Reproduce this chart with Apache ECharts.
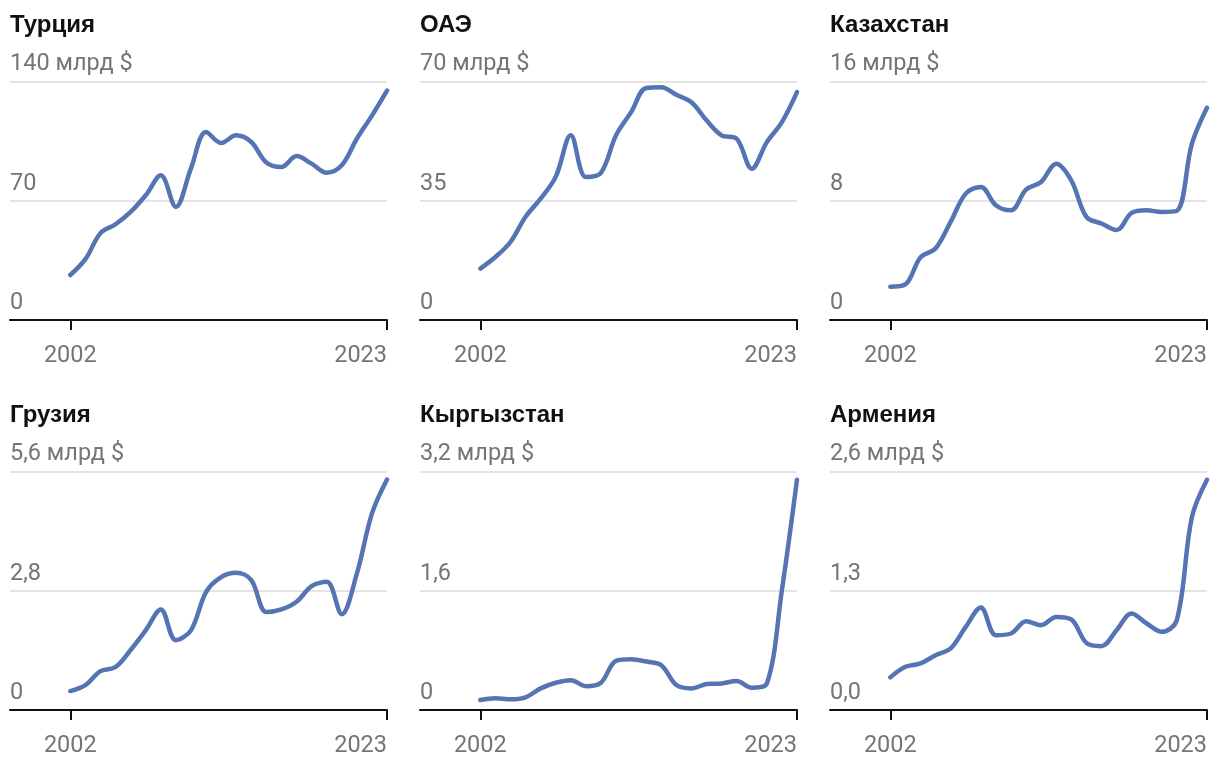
<!DOCTYPE html>
<html>
<head>
<meta charset="utf-8">
<script src="https://cdn.jsdelivr.net/npm/echarts@6/dist/echarts.min.js"></script>
<style>
html,body{margin:0;padding:0;background:#fff;}
#chart{width:1220px;height:770px;}
</style>
</head>
<body>
<div id="chart"></div>
<script>
const years = [2002,2003,2004,2005,2006,2007,2008,2009,2010,2011,2012,2013,2014,2015,2016,2017,2018,2019,2020,2021,2022,2023];
const countries = ['Турция','ОАЭ','Казахстан','Грузия','Кыргызстан','Армения'];
const yMax = [140, 70, 16, 5.6, 3.2, 2.6];
const yDecimals = [0, 0, 0, 1, 1, 1];
const zeroLabels = ['0', '0', '0', '0', '0', '0,0'];
const turkey = [26.4,35.7,51,56.2,63.4,73.2,84.9,66.4,89,110.3,103.9,108.4,104.5,92.4,89.8,96.2,91.8,86.5,90.8,106.4,120,134.7];
const uae = [15.1,18.5,22.9,30.3,35.6,42,54.2,42,43.2,54.2,61,68.1,68.3,66.1,63.9,58.6,54.2,53.2,44.4,52.2,58.1,66.9];
const kazakhstan = [2.23,2.39,4.2,4.8,6.58,8.48,8.93,7.7,7.36,8.75,9.26,10.49,9.37,6.92,6.47,6.03,7.18,7.36,7.25,7.32,11.83,14.24];
const georgia = [0.445,0.586,0.914,1.01,1.41,1.87,2.36,1.64,1.87,2.77,3.12,3.22,3.05,2.30,2.36,2.54,2.91,3.01,2.25,3.20,4.61,5.41];
const kyrgyzstan = [0.134,0.157,0.143,0.17,0.29,0.366,0.40,0.32,0.366,0.66,0.68,0.65,0.60,0.335,0.29,0.348,0.357,0.39,0.30,0.357,1.61,3.09];
const armenia = [0.356,0.471,0.508,0.598,0.671,0.906,1.117,0.816,0.834,0.968,0.925,1.015,0.987,0.732,0.696,0.870,1.052,0.943,0.852,0.979,2.103,2.51];
const seriesData = [turkey, uae, kazakhstan, georgia, kyrgyzstan, armenia];
const xTicks = [2002, 2023];
const unitSuffix = ' млрд $';

const chart = echarts.init(document.getElementById('chart'));
const colLeft = [10, 420, 830];
const rowTop = [81.5, 471.5];
const gW = 377, gH = 238.5;
const gray = '#757575';

const grids = [], xAxes = [], yAxes = [], series = [], titles = [];
countries.forEach((name, i) => {
  const c = i % 3, r = Math.floor(i / 3);
  grids.push({left: colLeft[c], top: rowTop[r], width: gW, height: gH, containLabel: false});
  titles.push({
    text: name, left: colLeft[c] - 5, top: rowTop[r] - 73,
    textStyle: {fontFamily: 'Liberation Sans, Arial, sans-serif', fontWeight: 'bold', fontSize: 24, color: '#111'}
  });
  xAxes.push({
    type: 'value', gridIndex: i, min: 1998, max: 2023,
    axisLine: {show: true, lineStyle: {color: '#111', width: 2}},
    axisTick: {show: true, customValues: xTicks, length: 10, lineStyle: {color: '#111', width: 2}},
    axisLabel: {show: true, customValues: xTicks, formatter: v => String(v), color: gray,
      fontFamily: 'Roboto', fontSize: 23.5, margin: 24, alignMaxLabel: 'right'},
    splitLine: {show: false}
  });
  const mx = yMax[i], d = yDecimals[i];
  yAxes.push({
    type: 'value', gridIndex: i, min: 0, max: mx, interval: mx / 2,
    axisLine: {show: false}, axisTick: {show: false},
    splitLine: {show: true, lineStyle: {color: '#e4e4e4', width: 2}},
    axisLabel: {
      inside: true, color: gray, fontFamily: 'Roboto', fontSize: 23.5,
      verticalAlign: 'bottom', align: 'left', margin: 0, padding: [0, 0, 5, 0],
      formatter: v => {
        if (v === 0) return zeroLabels[i];
        const s = v.toFixed(d).replace('.', ',');
        return Math.abs(v - mx) < 1e-9 ? s + unitSuffix : s;
      }
    }
  });
  series.push({
    type: 'line', xAxisIndex: i, yAxisIndex: i,
    data: years.map((y, k) => [y, seriesData[i][k]]),
    smooth: 0.35, showSymbol: false, symbol: 'none',
    lineStyle: {color: '#5574b3', width: 4.5, cap: 'round', join: 'round'},
    animation: false
  });
});

chart.setOption({
  animation: false,
  title: titles,
  grid: grids,
  xAxis: xAxes,
  yAxis: yAxes,
  series: series
});
</script>
</body>
</html>
